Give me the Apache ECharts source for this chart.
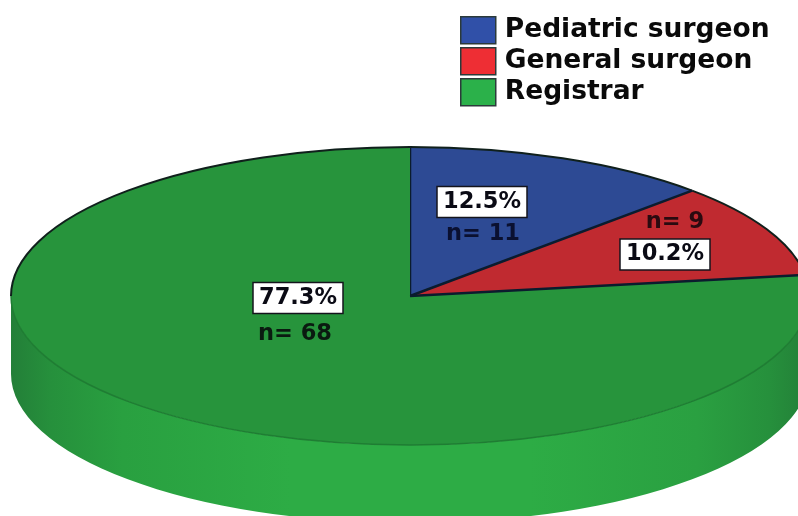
<!DOCTYPE html>
<html>
<head>
<meta charset="utf-8">
<style>html,body{margin:0;padding:0;background:#fff}#chart{width:798px;height:516px}</style>
<script src="https://cdn.jsdelivr.net/npm/echarts@6/dist/echarts.min.js"></script>
</head>
<body>
<div id="chart"></div>
<script>
var categories=['Pediatric surgeon','General surgeon','Registrar'];
var counts=[11,9,68];
var percents=['12.5%','10.2%','77.3%'];
var countLabels=['n= 11','n= 9','n= 68'];

// look of the slices and where SPSS left the labels
var topColors=['#2d4a94','#c02a30','#27943c'];
var legendColors=['#3050a8','#ee2e34','#2bb14a'];
var frontEdge=['#0b1c2e','#0b1c2e','#1f7d33'];
var countColors=['#0a1030','#2a0a10','#0a1a10'];
var boxPos=[[482,202],[665,254.5],[298,298]];
var countPos=[[483,234],[675,222],[295,334]];
var cx=410,cy=296,rx=399,ry=149,depth=78;
var font='bold 22.5px "DejaVu Sans"';

var total=counts.reduce(function(a,b){return a+b},0);

function pt(deg,dy){
    var r=deg*Math.PI/180;
    return (cx+rx*Math.sin(r)).toFixed(2)+' '+(cy-ry*Math.cos(r)+(dy||0)).toFixed(2);
}
function arc(a,b,dy,back){
    var large=Math.abs(b-a)>180?1:0;
    return 'A '+rx+' '+ry+' 0 '+large+' '+(back?0:1)+' '+pt(b,dy);
}
function startOf(i){
    var s=0;
    for(var k=0;k<i;k++)s+=counts[k];
    return s/total*360;
}

function renderSlice(i,api){
    var a=startOf(i),b=a+api.value(0)/total*360;
    var kids=[];
    // side wall, only the part that faces the viewer
    var fa=Math.max(a,90),fb=Math.min(b,270);
    if(fb>fa){
        kids.push({type:'path',shape:{pathData:'M '+pt(fa)+' '+arc(fa,fb)+' L '+pt(fb,depth)+' '+arc(fb,fa,depth,true)+' Z'},style:{
            fill:{type:'linear',x:11,y:0,x2:809,y2:0,global:true,colorStops:[
                {offset:0,color:'#237f38'},{offset:0.05,color:'#26903c'},{offset:0.14,color:'#29a040'},
                {offset:0.35,color:'#2dac45'},{offset:0.65,color:'#2dac45'},{offset:0.86,color:'#2aa041'},
                {offset:0.95,color:'#26903c'},{offset:1,color:'#237f38'}]},
            stroke:null}});
    }
    // top face
    kids.push({type:'path',shape:{pathData:'M '+cx+' '+cy+' L '+pt(a)+' '+arc(a,b)+' Z'},style:{fill:topColors[i],stroke:null}});
    // rim, black along the back and softer along the front
    if(fb>fa){
        kids.push({type:'path',shape:{pathData:'M '+pt(fa)+' '+arc(fa,fb)},style:{fill:null,stroke:frontEdge[i],lineWidth:1.5}});
    }
    if(a<90){
        kids.push({type:'path',shape:{pathData:'M '+pt(a)+' '+arc(a,Math.min(b,90))},style:{fill:null,stroke:'#10201c',lineWidth:2}});
    }
    if(b>270){
        kids.push({type:'path',shape:{pathData:'M '+pt(Math.max(a,270))+' '+arc(Math.max(a,270),b)},style:{fill:null,stroke:'#10201c',lineWidth:2}});
    }
    kids.push({type:'path',shape:{pathData:'M '+cx+' '+cy+' L '+pt(a)},style:{fill:null,stroke:'#0b1c2e',lineWidth:2.5}});
    // labels
    var bp=boxPos[i],cp=countPos[i];
    kids.push({type:'rect',shape:{x:bp[0]-45,y:bp[1]-15.5,width:90,height:31},style:{fill:'#fff',stroke:'#14141c',lineWidth:1.5}});
    kids.push({type:'text',style:{x:bp[0],y:bp[1],text:percents[i],font:font,fill:'#0a0a14',align:'center',verticalAlign:'middle'}});
    kids.push({type:'text',style:{x:cp[0],y:cp[1],text:countLabels[i],font:font,fill:countColors[i],align:'center',verticalAlign:'middle'}});
    return {type:'group',children:kids};
}

var chart=echarts.init(document.getElementById('chart'),null,{renderer:'canvas'});
chart.setOption({
    animation:false,
    backgroundColor:'#fff',
    legend:{
        orient:'vertical',
        left:460,
        top:16,
        padding:0,
        itemWidth:35,
        itemHeight:27,
        itemGap:2.5,
        selectedMode:false,
        icon:'rect',
        textStyle:{fontFamily:'DejaVu Sans',fontWeight:'bold',fontSize:26.5,lineHeight:27,height:27,color:'#0a0a0a',padding:[0,0,0,4]},
        data:categories.map(function(name,i){
            return {name:name,itemStyle:{color:legendColors[i],borderColor:'#2b3a3a',borderWidth:1.5}};
        })
    },
    series:categories.map(function(name,i){
        return {
            type:'custom',
            name:name,
            coordinateSystem:'none',
            silent:true,
            itemStyle:{color:legendColors[i]},
            data:[counts[i]],
            renderItem:function(params,api){return renderSlice(i,api)}
        };
    })
});
</script>
</body>
</html>
